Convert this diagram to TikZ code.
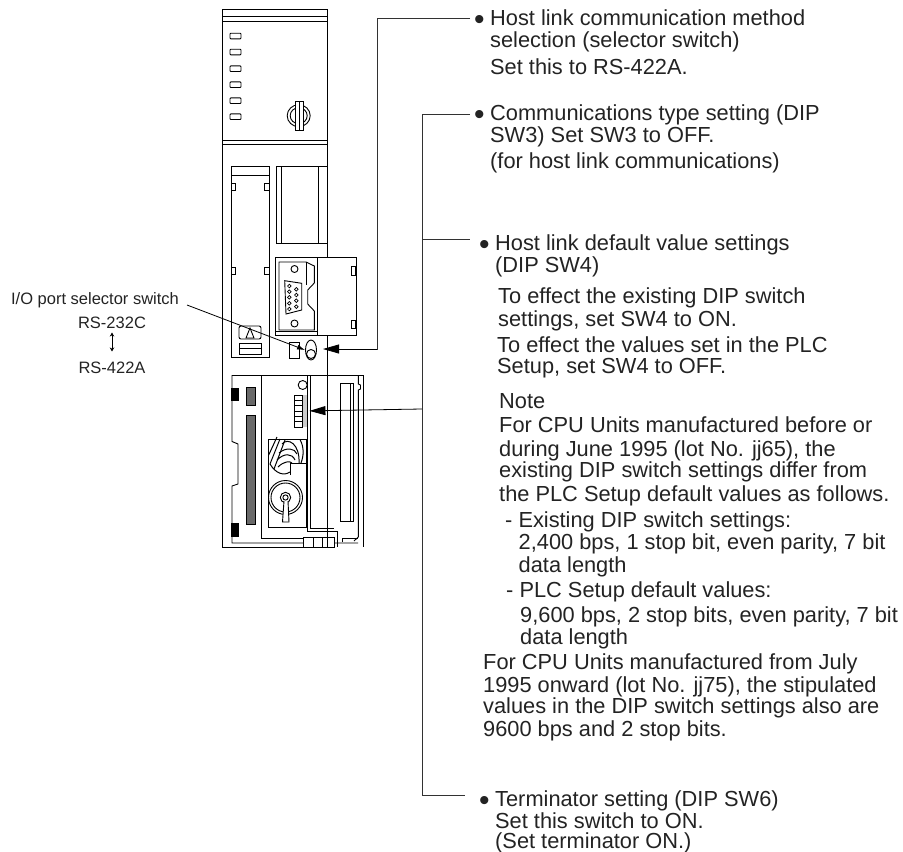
\documentclass[tikz,border=0pt]{standalone}
\usepackage{fontspec}
\setmainfont{Liberation Sans}
\usepackage{xcolor}
\definecolor{inkdark}{RGB}{35,35,35}
\definecolor{inkline}{RGB}{50,50,50}
\definecolor{slotgray}{RGB}{105,105,105}
\definecolor{stripgray}{RGB}{205,205,205}
\usetikzlibrary{arrows.meta, positioning, shapes.geometric}
\newcommand{\topstrut}{\rule{0pt}{16pt}}
\newcommand{\bulletmark}{\makebox[16pt][l]{\raisebox{-4pt}{\smash{\fontsize{30}{30}\selectfont •}}}}
\newcommand{\hang}{\hspace*{16pt}}

\begin{document}
\begin{tikzpicture}[
  x=1pt, y=-1pt,
  dev/.style={draw=black, line width=0.9pt},
  devfill/.style={draw=black, line width=0.9pt, fill=white},
  part/.style={draw=black, line width=0.9pt, fill=white, inner sep=0pt},
  slot/.style={draw=black, line width=0.8pt, fill=slotgray},
  wire/.style={draw=black, line width=1pt},
  note/.style={anchor=north west, align=left, inner sep=0pt,
    font=\fontsize{21.8}{22}\selectfont, text=inkdark},
  small/.style={inner sep=0pt, align=center,
    font=\fontsize{16.5}{18}\selectfont, text=inkdark},
  lead/.style={line width=0.8pt, color=inkline},
  arr/.style={-{Triangle[length=16pt, width=9pt]}, line width=0.8pt, color=black},
  tip/.style={-{Latex[length=8pt, width=5pt]}, line width=0.8pt, color=black},
  flip/.style={{Stealth[length=4pt, width=4.5pt]}-{Stealth[length=4pt, width=4.5pt]}, line width=0.9pt, color=black},
]
\useasboundingbox (0,0) rectangle (903,852);

%% Cuerpo de la unidad
\draw[dev] (222,9) rectangle (327,547);
\draw[dev] (222,16) -- (327,16);
\draw[dev] (222,21) -- (327,21);
\draw[dev] (222,140) -- (327,140);
\draw[dev] (222,144) -- (327,144);

%% LEDs y selector superior
\foreach \ly in {36,52,68.7,84.7,100.7,116.7}
  \draw[dev, rounded corners=0.8pt] (230,\ly-2.8) rectangle (241,\ly+2.8);
\draw[dev] (298.7,115.7) ellipse (11.5 and 11);
\draw[dev] (298.7,115.7) ellipse (8.5 and 8);
\draw[devfill] (295,101) rectangle (303,130.5);
\draw[dev] (299,101) -- (299,130.5);

%% Ranura izquierda
\draw[dev] (231,166) rectangle (269,357);
\draw[dev] (231,175) -- (269,175);
\foreach \ty in {186.5,270.5} {
  \draw[devfill] (231,\ty-3.5) rectangle (235,\ty+3.5);
  \draw[devfill] (264.5,\ty-3.5) rectangle (269,\ty+3.5);
}
\draw[dev, rounded corners=2pt] (239,326) rectangle (261,339);
\draw[dev] (246,338) -- (250,328) -- (254,338) -- cycle;
\draw[dev] (239,343) rectangle (261,354);
\draw[dev] (239,348.5) -- (261,348.5);

%% Bloque derecho
\draw[dev] (276,166) rectangle (327,243);
\draw[dev] (281,166) -- (281,243);
\draw[dev] (318,166) -- (318,243);

%% Conector serie
\draw[devfill] (275.5,257) rectangle (356,335);
\draw[dev] (317,257) -- (317,335);
\draw[dev] (275.5,331) -- (317,331);
\draw[devfill] (351,266) rectangle (355,275);
\draw[devfill] (351,320) rectangle (355,328);
\draw[dev] (279,262) -- (306,262) -- (314.3,266) -- (314.3,283) -- (307.7,290)
  -- (307.7,304) -- (314.3,311) -- (314.3,330) -- (279,330) -- cycle;
\draw[dev] (306,262) -- (306,285);
\draw[dev] (294.5,269) circle (3.5);
\draw[dev] (294.5,323.5) circle (3.5);
\draw[dev] (284.7,280.7) -- (301.7,283.3) -- (301.7,310) -- (286,314) -- cycle;
\foreach \py in {286,291.7,297.3,303.3,309}
  \draw[line width=0.7pt] (289.3,\py) circle (1.8);
\foreach \py in {289.3,295,300.7,306.7}
  \draw[line width=0.7pt] (296.3,\py) circle (1.8);

%% Selector de puerto
\node[part, minimum width=10pt, minimum height=16pt] (portbox) at (294,350) {};
\node[part, ellipse, minimum width=11pt, minimum height=20pt] (portsel) at (311,350) {};
\draw[dev] (311,354) circle (4.5);

%% Panel inferior
\draw[dev] (232,375) -- (363,375) -- (363,547);
\draw[dev] (232,375) -- (232,441.5) -- (238,444) -- (238,484) -- (232,486) -- (232,543) -- (358,543);
\fill[black] (231,388) rectangle (238.5,401);
\fill[black] (231,523) rectangle (239,537);
\draw[slot] (246,387) rectangle (255,405);
\draw[slot] (246,415) rectangle (255,524);
\draw[dev] (261,375) -- (261,538) -- (303,538);
\draw[dev] (307.3,375) -- (307.3,531) -- (337,531) -- (337,547);
\draw[dev] (310,375) -- (310,528.5) -- (334,528.5);
\draw[dev] (302.7,385) circle (4.5);

%% Interruptores DIP
\fill[stripgray] (301.7,395) rectangle (307,427);
\node[part, minimum width=8pt, minimum height=32pt] (dipsw) at (298,411) {};
\foreach \dy in {400.3,405.6,411,416.3,421.6}
  \draw[dev] (294,\dy) -- (302,\dy);

%% Bateria y cables
\draw[dev] (268.5,439) rectangle (306,527);
\draw[dev] (290,475) -- (290,463.5) -- (306,463.5);
\draw[wire] (277,437) -- (268.7,455);
\draw[wire] (280,439) -- (270,464);
\draw[wire] (285,440) -- (274,469);
\draw[wire] (282,444) .. controls (288,437) and (300,444) .. (299,463);
\draw[wire] (279,453) .. controls (286,447) and (295,448) .. (297,454);
\draw[wire] (277,460) .. controls (284,453) and (292,453) .. (295,460);
\draw[wire] (278,467) .. controls (284,461) and (290,461) .. (292,463);
\draw[wire] (270,464) .. controls (276,474) and (284,476) .. (290,472);
\draw[wire] (300,439.5) .. controls (304,447) and (304,455) .. (301,463);
\draw[dev] (285.5,497.5) circle (17);
\draw[dev] (285.5,497.5) circle (14.5);
\draw[dev] (285.5,497.5) circle (5.2);
\draw[dev] (285.5,497.5) circle (2.6);
\draw[devfill] (284,501) -- (282.5,522) -- (289,522) -- (288,501);

%% Ranura de tarjeta
\draw[dev] (340.5,383) rectangle (353,521.5);
\draw[dev] (350,383) -- (350,521.5);
\draw[dev] (358.3,375) -- (358.3,384) -- (360.5,385) -- (360.5,389) -- (358.3,390) -- (358.3,537) -- (354,541);
\draw[dev] (342,542) -- (342,538) -- (358,538);

%% Bornes inferiores
\draw[devfill] (303,537) rectangle (334,547);
\draw[dev] (313,537) -- (313,547);
\draw[dev] (322.5,537) -- (322.5,547);
\draw[dev] (327,335) -- (327,547);

%% Rotulos izquierda
\node[small] (iosel)  at (95,300.5)  {I/O port selector switch};
\node[small] (rs232)  at (112,323)   {RS-232C};
\node[small] (rs422)  at (112,368)   {RS-422A};
\draw[flip, shorten <=3.5pt, shorten >=10.5pt] (rs232.south) -- (rs422.north);
\coordinate (leadstart) at (187,305);
\draw[tip] (leadstart) -- (portsel.west);

%% Notas derecha
\node[note] (hostmethod) at (474,9) {\bulletmark\topstrut Host link communication method\\
  \hang selection (selector switch)\\[5pt]
  \hang Set this to RS-422A.};
\node[note] (commtype) at (474,104.7) {\bulletmark\topstrut Communications type setting (DIP\\
  \hang SW3) Set SW3 to OFF.\\[4pt]
  \hang (for host link communications)};
\node[note] (defaults) at (479,234.7) {\bulletmark\topstrut Host link default value settings\\
  \hang (DIP SW4)};
\node[note] (effecton) at (498,287) {\topstrut To effect the existing DIP switch\\[1pt]
  settings, set SW4 to ON.};
\node[note] (effectoff) at (497,336) {\topstrut To effect the values set in the PLC\\[-1pt]
  Setup, set SW4 to OFF.};
\node[note] (notehead) at (499,392) {\topstrut Note\\[2pt]
  For CPU Units manufactured before or\\[2pt]
  during June 1995 (lot No. jj65), the\\[-1pt]
  existing DIP switch settings differ from\\[2pt]
  the PLC Setup default values as follows.};
\node[note] (olddip) at (505,511) {\topstrut - Existing DIP switch settings:};
\node[note] (oldval) at (518.5,533) {\topstrut 2,400 bps, 1 stop bit, even parity, 7 bit\\[1pt]
  data length};
\node[note] (plcdef) at (506,581) {\topstrut - PLC Setup default values:};
\node[note] (plcval) at (520,606) {\topstrut 9,600 bps, 2 stop bits, even parity, 7 bit\\
  data length};
\node[note] (onward) at (483,653) {\topstrut For CPU Units manufactured from July\\[1pt]
  1995 onward (lot No. jj75), the stipulated\\[-1pt]
  values in the DIP switch settings also are\\[1pt]
  9600 bps and 2 stop bits.};
\node[note] (termset) at (479,790) {\bulletmark\topstrut Terminator setting (DIP SW6)\\
  \hang Set this switch to ON.\\[-2pt]
  \hang (Set terminator ON.)};

%% Lineas de referencia
\coordinate (porttip) at (323,349);
\coordinate (dipjoin) at (422,409);
\draw[lead] (470,18) -- (377,18) -- (377,349) -- (339,349);
\draw[arr] (377,349) -- (porttip);
\draw[lead] (470,114) -- (422,114) -- (422,795) -- (465,795);
\draw[lead] (422,239) -- (470,239);
\draw[arr, shorten >=7pt] (dipjoin) -- (dipsw.east);

\end{tikzpicture}
\end{document}
